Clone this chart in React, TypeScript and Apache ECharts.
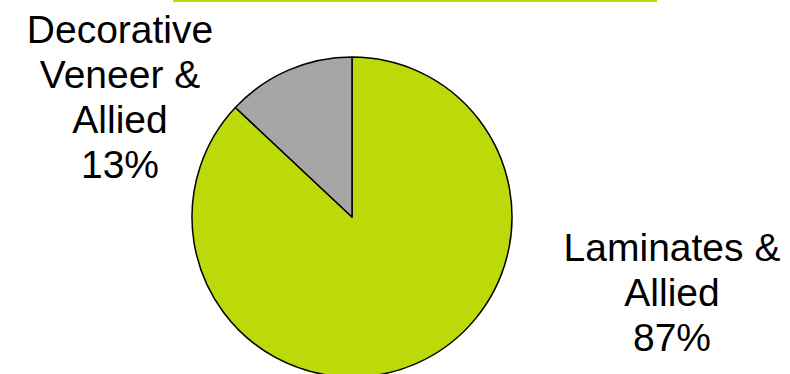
import React, { useEffect, useRef } from "react";
import * as echarts from "echarts";

const categories = ["Laminates &\nAllied", "Decorative\nVeneer &\nAllied"];
const values = [87, 13];
const colors = ["#BCD90A", "#A6A6A6"];

export default function App() {
  const ref = useRef<HTMLDivElement>(null);
  useEffect(() => {
    if (!ref.current) return;
    const chart = echarts.init(ref.current, undefined, { renderer: "svg" });
    const labelPos = [
      { x: 672, y: 292 },
      { x: 120, y: 97 },
    ];
    chart.setOption({
      animation: false,
      backgroundColor: "#ffffff",
      graphic: [
        {
          type: "line",
          shape: { x1: 173, y1: 1, x2: 657, y2: 1 },
          style: { stroke: "#BCD90A", lineWidth: 2 },
        },
      ],
      series: [
        {
          type: "pie",
          center: [352, 217],
          radius: 160,
          startAngle: 90,
          clockwise: true,
          percentPrecision: 0,
          itemStyle: { borderColor: "#000000", borderWidth: 1.5 },
          label: {
            show: true,
            position: "outside",
            formatter: "{b}\n{d}%",
            fontFamily: "Liberation Sans",
            fontSize: 39,
            lineHeight: 45,
            color: "#000000",
            align: "center",
          },
          labelLine: { show: false },
          labelLayout: (params: any) => ({
            x: labelPos[params.dataIndex].x,
            y: labelPos[params.dataIndex].y,
            align: "center",
            verticalAlign: "middle",
          }),
          emphasis: { disabled: true },
          data: categories.map((name, i) => ({
            name,
            value: values[i],
            itemStyle: { color: colors[i] },
          })),
        },
      ],
    });
    return () => chart.dispose();
  }, []);
  return (
    <div
      ref={ref}
      style={{ position: "fixed", left: 0, top: 0, width: 790, height: 374 }}
    />
  );
}
